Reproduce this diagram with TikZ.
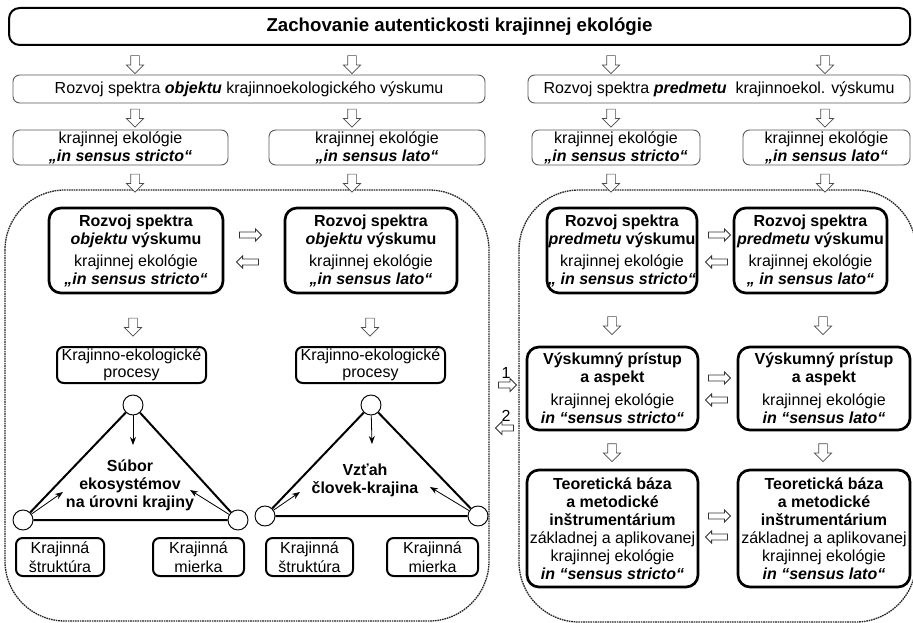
\documentclass[tikz,border=0pt]{standalone}
\usepackage{fontspec}
\setmainfont{Liberation Sans}
\usetikzlibrary{shapes,arrows.meta,positioning,calc}

\newcommand{\bi}[1]{\textbf{\textit{#1}}}

\tikzset{
  every node/.style={font=\fontsize{12}{13.5}\selectfont, align=center, inner sep=0pt},
  tbox/.style={draw=gray!70!black, line width=0.7pt, rounded corners=5pt},
  bbox/.style={draw, line width=2pt, rounded corners=9pt},
  kbox/.style={draw, line width=1.5pt, rounded corners=5pt},
  region/.style={draw=black!85, line width=1pt, dash pattern=on 1.2pt off 0.6pt, rounded corners=45pt},
  darr/.style={single arrow, draw=gray!60!black, fill=white, line width=0.5pt,
    shape border rotate=270, minimum height=13.5pt, single arrow head extend=3.2pt,
    inner sep=3pt, single arrow head indent=0pt},
  harr/.style={darr, draw=black!80, line width=0.6pt, shape border rotate=0, minimum height=16.5pt,
    single arrow head extend=2.3pt, inner sep=2pt},
  knot/.style={circle, draw, fill=white, line width=0.7pt, minimum size=15pt},
  side/.style={line width=1.5pt},
  ptr/.style={-{Stealth[length=6pt,width=4.5pt]}, line width=0.6pt}
}

\begin{document}
\begin{tikzpicture}[x=0.75pt, y=-0.75pt]
    \useasboundingbox (0,0) rectangle (913,623);

    % dashed regions
    \draw[region] (5,190) rectangle (489,621);
    \draw[region] (519,190) rectangle (916,622);

    % Title
    \node[draw, line width=1.5pt, rounded corners=8pt, minimum width=675.75pt, minimum height=27.75pt,
      font=\fontsize{14}{16}\selectfont\bfseries] (title) at (459.5,26.5) {Zachovanie autentickosti krajinnej ekológie};

    % hollow arrows, upper rows
    \foreach \x in {135,352,611,825} {
        \node[darr] (da-\x) at (\x,62.5) {};
        \node[darr] (db-\x) at (\x,116) {};
        \node[darr] (dc-\x) at (\x,181) {};
    }

    % Spectra
    \node[tbox, minimum width=354pt, minimum height=21pt] (obj) at (249,89)
      {Rozvoj spektra \bi{objektu} krajinnoekologického výskumu};
    \node[tbox, minimum width=286.5pt, minimum height=21pt] (pred) at (719,89)
      {Rozvoj spektra \bi{predmetu}\ \ krajinnoekol. výskumu};

    % sensus stricto / lato
    \node[tbox, minimum width=161.25pt, minimum height=26.25pt] (ss1) at (120.5,147.5) {krajinnej ekológie\\\bi{„in sensus stricto“}};
    \node[tbox, minimum width=162pt, minimum height=26.25pt] (sl1) at (377,147.5) {krajinnej ekológie\\\bi{„in sensus lato“}};
    \node[tbox, minimum width=126pt, minimum height=26.25pt] (ss2) at (616,147.5) {krajinnej ekológie\\\bi{„in sensus stricto“}};
    \node[tbox, minimum width=125.25pt, minimum height=26.25pt] (sl2) at (826.5,147.5) {krajinnej ekológie\\\bi{„in sensus lato“}};

    % Left region
    \node[bbox, minimum width=130.5pt, minimum height=63.75pt] (rozS1) at (136,250.5)
      {\textbf{Rozvoj spektra}\\\bi{objektu} \textbf{výskumu}\\[3pt]krajinnej ekológie\\\bi{„in sensus stricto“}};
    \node[bbox, minimum width=129pt, minimum height=63.75pt] (rozL1) at (371,250.5)
      {\textbf{Rozvoj spektra}\\\bi{objektu} \textbf{výskumu}\\[3pt]krajinnej ekológie\\\bi{„in sensus lato“}};
    \node[harr] (h1r) at (249,235) {};
    \node[harr, shape border rotate=180] (h1l) at (249,262) {};

    \node[darr] (dd-1) at (133,325) {};
    \node[darr] (dd-2) at (370,325) {};

    \node[kbox, minimum width=111.75pt, minimum height=27pt, font=\fontsize{12}{12.8}\selectfont] (proc1) at (131.5,365) {Krajinno-ekologické\\procesy};
    \node[kbox, minimum width=111.75pt, minimum height=27pt, font=\fontsize{12}{12.8}\selectfont] (proc2) at (370.5,365) {Krajinno-ekologické\\procesy};

    % triangle 1
    \node[knot] (top1) at (133,405) {};
    \node[knot] (left1) at (23,520) {};
    \node[knot] (right1) at (238,520) {};
    \draw[side] (top1) -- (left1) -- (right1) -- (top1);
    \node[font=\fontsize{12}{13.5}\selectfont\bfseries] (sub) at (130,485) {Súbor\\ekosystémov\\na úrovni krajiny};
    \coordinate (p1) at (133,445);
    \coordinate (q1) at (63,492);
    \coordinate (s1) at (190,490);
    \draw[ptr] (top1) -- (p1);
    \draw[ptr] (left1) -- (q1);
    \draw[ptr] (right1) -- (s1);

    % triangle 2
    \node[knot] (top2) at (371,405) {};
    \node[knot] (left2) at (265,516) {};
    \node[knot] (right2) at (478,516) {};
    \draw[side] (top2) -- (left2) -- (right2) -- (top2);
    \node[font=\fontsize{12}{13.5}\selectfont\bfseries] (vzt) at (365,480) {Vzťah\\človek-krajina};
    \coordinate (p2) at (372,444);
    \coordinate (q2) at (300,492);
    \coordinate (s2) at (430,487);
    \draw[ptr] (top2) -- (p2);
    \draw[ptr] (left2) -- (q2);
    \draw[ptr] (right2) -- (s2);

    \node[kbox, minimum width=66pt, minimum height=28.5pt, font=\fontsize{12}{14}\selectfont] (str1) at (60,557) {Krajinná\\štruktúra};
    \node[kbox, minimum width=68.25pt, minimum height=28.5pt, font=\fontsize{12}{14}\selectfont] (mie1) at (198.5,557) {Krajinná\\mierka};
    \node[kbox, minimum width=65.25pt, minimum height=28.5pt, font=\fontsize{12}{14}\selectfont] (str2) at (309.5,557) {Krajinná\\štruktúra};
    \node[kbox, minimum width=68.25pt, minimum height=28.5pt, font=\fontsize{12}{14}\selectfont] (mie2) at (432.5,557) {Krajinná\\mierka};

    % links 1 and 2
    \node[harr, minimum height=13.5pt, single arrow head extend=2.6pt] (one) at (506,385) {};
    \node[harr, minimum height=13.5pt, single arrow head extend=2.6pt, shape border rotate=180] (two) at (506,428) {};
    \node[above=2pt of one] (lab1) {1};
    \node[above=2pt of two] (lab2) {2};

    % Right region
    \node[bbox, minimum width=112.5pt, minimum height=63.75pt] (rozS2) at (622,250.5)
      {\textbf{Rozvoj spektra}\\\bi{predmetu} \textbf{výskumu}\\[3pt]krajinnej ekológie\\\bi{„ in sensus stricto“}};
    \node[bbox, minimum width=114.75pt, minimum height=63.75pt] (rozL2) at (810.5,250.5)
      {\textbf{Rozvoj spektra}\\\bi{predmetu} \textbf{výskumu}\\[3pt]krajinnej ekológie\\\bi{„ in sensus lato“}};
    \node[harr] (h2r) at (718,235) {};
    \node[harr, shape border rotate=180] (h2l) at (718,262) {};

    \node[darr] (de-1) at (612,323.5) {};
    \node[darr] (de-2) at (823,323.5) {};

    \node[bbox, minimum width=128.25pt, minimum height=62.25pt] (vysS) at (612.5,388.5)
      {\textbf{Výskumný prístup}\\\textbf{a aspekt}\\[4pt]krajinnej ekológie\\\bi{in “sensus stricto“}};
    \node[bbox, minimum width=129pt, minimum height=62.25pt] (vysL) at (824,388.5)
      {\textbf{Výskumný prístup}\\\textbf{a aspekt}\\[4pt]krajinnej ekológie\\\bi{in “sensus lato“}};
    \node[harr] (h3r) at (718,378) {};
    \node[harr, shape border rotate=180] (h3l) at (718,400) {};

    \node[darr] (df-1) at (612,450.5) {};
    \node[darr] (df-2) at (823,450.5) {};

    \node[bbox, minimum width=128.25pt, minimum height=87.75pt] (teoS) at (612.5,528.5)
      {\textbf{Teoretická báza}\\\textbf{a metodické}\\\textbf{inštrumentárium}\\základnej a aplikovanej\\krajinnej ekológie\\\bi{in “sensus stricto“}};
    \node[bbox, minimum width=129pt, minimum height=87.75pt] (teoL) at (824,528.5)
      {\textbf{Teoretická báza}\\\textbf{a metodické}\\\textbf{inštrumentárium}\\základnej a aplikovanej\\krajinnej ekológie\\\bi{in “sensus lato“}};
    \node[harr] (h4r) at (718,516) {};
    \node[harr, shape border rotate=180] (h4l) at (718,537) {};
\end{tikzpicture}
\end{document}
